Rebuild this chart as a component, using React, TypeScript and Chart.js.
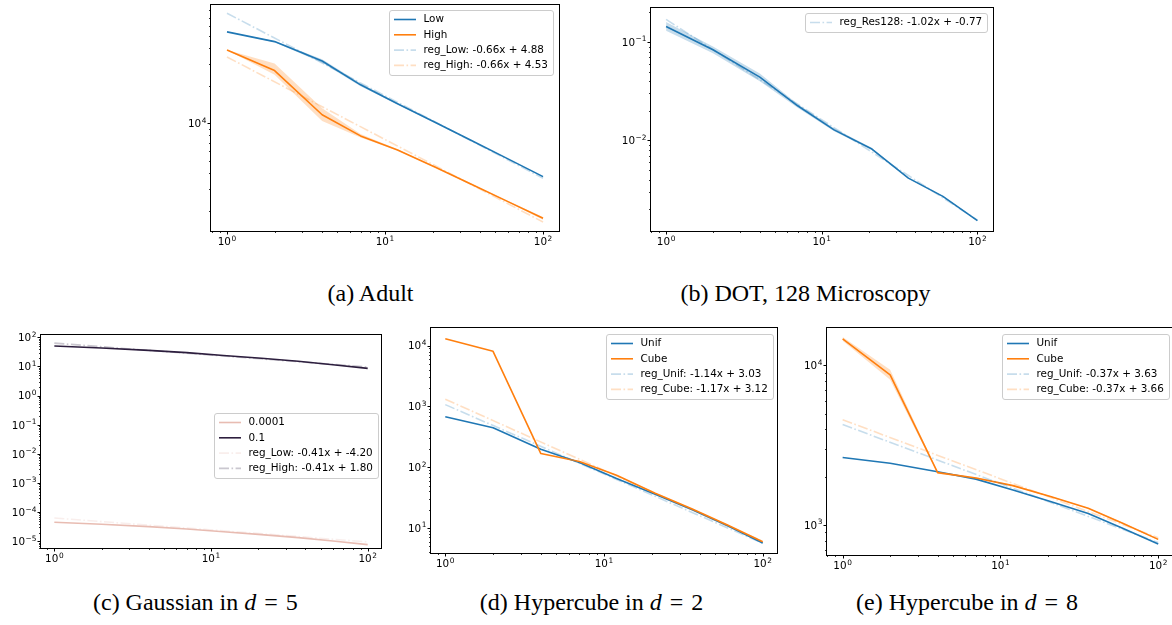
import React, { useEffect, useRef } from 'react';
import { Chart, registerables } from 'chart.js';

Chart.register(...registerables);

const FONT = 'DejaVu Sans';
const FS = 10.4;
const EXP_FS = 7.4;

// ---------------- data ----------------
const xSteps = [1, 2, 4, 7, 12, 21, 36, 60, 100];
const regEnds = [1, 100];
const xTicks = [1, 10, 100];

// (a) Adult
const adultLow = [53800, 45000, 31500, 20300, 14300, 10100, 7180, 5190, 3740];
const adultHigh = [38600, 26400, 11700, 7920, 6120, 4420, 3210, 2360, 1740];
const adultLowBandLo = [53800, 44500, 30500, 19800, 14100, 10000, 7150, 5170, 3720];
const adultLowBandHi = [53800, 45500, 32500, 20900, 14500, 10200, 7210, 5210, 3760];
const adultHighBandLo = [38600, 24400, 10400, 7700, 6050, 4380, 3180, 2330, 1690];
const adultHighBandHi = [38600, 30000, 13200, 8200, 6200, 4460, 3240, 2390, 1780];
const adultRegLow = [75900, 3630];
const adultRegHigh = [33900, 1620];
const adultYTicks = [1e4];

// (b) DOT, 128 Microscopy
const dotRes128 = [0.144, 0.0835, 0.044, 0.0225, 0.0128, 0.00817, 0.00414, 0.0027, 0.00153];
const dotBandLo = [0.13, 0.077, 0.04, 0.0215, 0.0124, 0.008, 0.0041, 0.00268, 0.00152];
const dotBandHi = [0.16, 0.09, 0.048, 0.0235, 0.0133, 0.0084, 0.0042, 0.00272, 0.00154];
const dotReg = [0.17, 0.00155];
const dotYTicks = [0.1, 0.01];

// (c) Gaussian in d = 5
const gaussLow = [4.5e-5, 3.85e-5, 3.2e-5, 2.65e-5, 2.13e-5, 1.7e-5, 1.34e-5, 1.03e-5, 7.7e-6];
const gaussHigh = [50.4, 43.0, 35.7, 29.7, 23.8, 19.0, 15.0, 11.5, 8.6];
const gaussRegLow = [6.31e-5, 9.55e-6];
const gaussRegHigh = [63.1, 9.55];
const gaussYTicks = [1e2, 1e1, 1, 1e-1, 1e-2, 1e-3, 1e-4, 1e-5];

// (d) Hypercube in d = 2
const cube2Unif = [678, 447, 197, 120, 65.2, 36, 20, 10.9, 5.7];
const cube2Cube = [13000, 8070, 168, 124, 74, 37.5, 20.5, 11.2, 5.97];
const cube2RegUnif = [1072, 5.62];
const cube2RegCube = [1318, 6.03];
const cube2YTicks = [10, 100, 1000, 1e4];

// (e) Hypercube in d = 8
const cube8Unif = [2650, 2440, 2160, 1940, 1660, 1400, 1183, 952, 760];
const cube8Cube = [14700, 8730, 2130, 1970, 1766, 1506, 1273, 1024, 813];
const cube8CubeBandLo = [14300, 8150, 2100, 1950, 1750, 1495, 1265, 1015, 805];
const cube8CubeBandHi = [15100, 9400, 2160, 1990, 1782, 1517, 1281, 1033, 821];
const cube8RegUnif = [4266, 776];
const cube8RegCube = [4571, 832];
const cube8YTicks = [1000, 1e4];

const BLUE = '#1f77b4';
const ORANGE = '#ff7f0e';
const PINK = '#e8bcb2';
const NAVY = '#2d1e3e';

// ---------------- helpers ----------------
type Series = {
  kind: 'line' | 'reg' | 'band';
  label?: string;
  color: string;
  xs: number[];
  ys: number[];
  ys2?: number[];
};

type Panel = {
  L: number; T: number; R: number; B: number;
  xMin: number; xMax: number; yMin: number; yMax: number;
  yTicks: number[];
  series: Series[];
  legend: { right: number; top: number };
};

const expText = (v: number) => String(Math.round(Math.log10(v))).replace('-', '\u2212');

const rgba = (hex: string, a: number) => {
  const n = parseInt(hex.slice(1), 16);
  return `rgba(${(n >> 16) & 255},${(n >> 8) & 255},${n & 255},${a})`;
};

const toPts = (xs: number[], ys: number[]) => xs.map((x, i) => ({ x, y: ys[i] }));

function buildDatasets(series: Series[]) {
  const out: any[] = [];
  series.forEach((s, seq) => {
    if (s.kind === 'band') {
      const order = 300 - seq;
      out.push({ data: toPts(s.xs, s.ys), borderColor: 'rgba(0,0,0,0)', borderWidth: 1, pointRadius: 0, fill: false, order });
      out.push({ data: toPts(s.xs, s.ys2 || s.ys), borderColor: 'rgba(0,0,0,0)', borderWidth: 1, pointRadius: 0, fill: '-1', backgroundColor: rgba(s.color, 0.25), order });
    } else if (s.kind === 'line') {
      out.push({ label: s.label, data: toPts(s.xs, s.ys), borderColor: s.color, borderWidth: 1.6, pointRadius: 0, fill: false, borderJoinStyle: 'round', order: 200 - seq });
    } else {
      out.push({ label: s.label, data: toPts(s.xs, s.ys), borderColor: rgba(s.color, 0.25), borderWidth: 1.6, borderDash: [10, 2.5, 1.6, 2.5], pointRadius: 0, fill: false, order: 100 - seq });
    }
  });
  return out;
}

// draws "10" with a raised, smaller exponent (matplotlib mathtext style)
function drawPow(ctx: any, v: number, anchorX: number, baseY: number, align: 'center' | 'right') {
  const base = '10';
  const ex = expText(v);
  ctx.font = `${FS}px "${FONT}"`;
  const wb = ctx.measureText(base).width;
  ctx.font = `${EXP_FS}px "${FONT}"`;
  const we = ctx.measureText(ex).width;
  const total = wb + 0.6 + we;
  const x0 = align === 'center' ? anchorX - total / 2 : anchorX - total;
  ctx.textAlign = 'left';
  ctx.textBaseline = 'alphabetic';
  ctx.fillStyle = '#000';
  ctx.font = `${FS}px "${FONT}"`;
  ctx.fillText(base, x0, baseY);
  ctx.font = `${EXP_FS}px "${FONT}"`;
  ctx.fillText(ex, x0 + wb + 0.6, baseY - 4.4);
}

const axesPlugin = {
  id: 'mplAxes',
  afterDatasetsDraw(chart: any, _args: any, opts: any) {
    const { ctx, chartArea } = chart;
    const { left, top, right, bottom } = chartArea;
    const drawTicks = (scale: any, horizontal: boolean) => {
      const lo = Math.floor(Math.log10(scale.min));
      const hi = Math.ceil(Math.log10(scale.max));
      for (let k = lo; k <= hi; k++) {
        for (let m = 1; m <= 9; m++) {
          const v = m * Math.pow(10, k);
          if (v < scale.min * (1 - 1e-9) || v > scale.max * (1 + 1e-9)) continue;
          const p = Math.round(scale.getPixelForValue(v)) + 0.5;
          const len = m === 1 ? 3.5 : 2;
          ctx.lineWidth = m === 1 ? 1 : 0.8;
          ctx.beginPath();
          if (horizontal) {
            ctx.moveTo(p, bottom);
            ctx.lineTo(p, bottom + len);
          } else {
            ctx.moveTo(left, p);
            ctx.lineTo(left - len, p);
          }
          ctx.stroke();
        }
      }
    };
    ctx.save();
    ctx.strokeStyle = '#000';
    drawTicks(chart.scales.x, true);
    drawTicks(chart.scales.y, false);
    ctx.lineWidth = 1;
    ctx.strokeRect(left - 0.5, top - 0.5, right - left + 1, bottom - top + 1);
    (opts.xTicks || []).forEach((v: number) => {
      drawPow(ctx, v, chart.scales.x.getPixelForValue(v), bottom + 14, 'center');
    });
    (opts.yTicks || []).forEach((v: number) => {
      drawPow(ctx, v, left - 4.5, chart.scales.y.getPixelForValue(v) + 3.8, 'right');
    });
    ctx.restore();
  },
};

const legendPlugin = {
  id: 'mplLegend',
  afterDraw(chart: any, _args: any, opts: any) {
    const ctx = chart.ctx;
    const ca = chart.chartArea;
    const items = chart.data.datasets.filter((d: any) => d.label);
    if (!items.length) return;
    ctx.save();
    ctx.font = `${FS}px "${FONT}"`;
    const textW = Math.max(...items.map((d: any) => ctx.measureText(d.label).width));
    const padL = 4.5, handle = 22, gap = 7.5, padR = 5.5, rowH = 15.3;
    const w = Math.round(padL + handle + gap + textW + padR);
    const h = Math.round(19 + (items.length - 1) * rowH);
    const x0 = Math.round(ca.right - opts.right - w) + 0.5;
    const y0 = Math.round(ca.top + opts.top) + 0.5;
    const r = 2.5;
    ctx.beginPath();
    ctx.moveTo(x0 + r, y0);
    ctx.lineTo(x0 + w - r, y0);
    ctx.arcTo(x0 + w, y0, x0 + w, y0 + r, r);
    ctx.lineTo(x0 + w, y0 + h - r);
    ctx.arcTo(x0 + w, y0 + h, x0 + w - r, y0 + h, r);
    ctx.lineTo(x0 + r, y0 + h);
    ctx.arcTo(x0, y0 + h, x0, y0 + h - r, r);
    ctx.lineTo(x0, y0 + r);
    ctx.arcTo(x0, y0, x0 + r, y0, r);
    ctx.closePath();
    ctx.fillStyle = 'rgba(255,255,255,0.8)';
    ctx.fill();
    ctx.strokeStyle = '#cccccc';
    ctx.lineWidth = 1;
    ctx.stroke();
    items.forEach((d: any, i: number) => {
      const cy = y0 + 9 + i * rowH;
      ctx.beginPath();
      ctx.setLineDash(d.borderDash || []);
      ctx.strokeStyle = d.borderColor;
      ctx.lineWidth = d.borderWidth;
      ctx.moveTo(x0 + padL, cy);
      ctx.lineTo(x0 + padL + handle, cy);
      ctx.stroke();
      ctx.setLineDash([]);
      ctx.fillStyle = '#000';
      ctx.textBaseline = 'middle';
      ctx.textAlign = 'left';
      ctx.fillText(d.label, x0 + padL + handle + gap, cy);
    });
    ctx.restore();
  },
};

const Y_W = 50, X_H = 28, PAD_T = 14, PAD_R = 16;

function PanelChart({ p }: { p: Panel }) {
  const ref = useRef<HTMLCanvasElement>(null);
  const w = p.R - p.L + Y_W + PAD_R;
  const h = p.B - p.T + PAD_T + X_H;
  useEffect(() => {
    const chart = new Chart(ref.current as HTMLCanvasElement, {
      type: 'line',
      data: { datasets: buildDatasets(p.series) },
      options: {
        animation: false,
        responsive: false,
        devicePixelRatio: 1,
        events: [],
        layout: { padding: { top: PAD_T, right: PAD_R, left: 0, bottom: 0 } },
        elements: { line: { tension: 0 } },
        plugins: {
          legend: { display: false },
          tooltip: { enabled: false },
          mplLegend: p.legend,
          mplAxes: { xTicks, yTicks: p.yTicks },
        } as any,
        scales: {
          x: {
            type: 'logarithmic',
            min: p.xMin,
            max: p.xMax,
            grid: { display: false, drawTicks: false },
            border: { display: false },
            afterFit: (s: any) => { s.height = X_H; },
            ticks: { display: false },
          },
          y: {
            type: 'logarithmic',
            min: p.yMin,
            max: p.yMax,
            grid: { display: false, drawTicks: false },
            border: { display: false },
            afterFit: (s: any) => { s.width = Y_W; },
            ticks: { display: false },
          },
        } as any,
      },
      plugins: [axesPlugin, legendPlugin],
    } as any);
    return () => chart.destroy();
  }, []);
  return (
    <canvas
      ref={ref}
      width={w}
      height={h}
      style={{ position: 'absolute', left: p.L - Y_W, top: p.T - PAD_T, width: w, height: h, display: 'block' }}
    />
  );
}

const panels: Panel[] = [
  {
    L: 211, T: 5, R: 559, B: 231,
    xMin: 0.792, xMax: 126.2, yMin: 1374, yMax: 88300,
    yTicks: adultYTicks,
    legend: { right: 6, top: 5 },
    series: [
      { kind: 'band', color: BLUE, xs: xSteps, ys: adultLowBandLo, ys2: adultLowBandHi },
      { kind: 'band', color: ORANGE, xs: xSteps, ys: adultHighBandLo, ys2: adultHighBandHi },
      { kind: 'line', label: 'Low', color: BLUE, xs: xSteps, ys: adultLow },
      { kind: 'line', label: 'High', color: ORANGE, xs: xSteps, ys: adultHigh },
      { kind: 'reg', label: 'reg_Low: -0.66x + 4.88', color: BLUE, xs: regEnds, ys: adultRegLow },
      { kind: 'reg', label: 'reg_High: -0.66x + 4.53', color: ORANGE, xs: regEnds, ys: adultRegHigh },
    ],
  },
  {
    L: 651, T: 8, R: 993, B: 231,
    xMin: 0.80, xMax: 125.9, yMin: 0.0012, yMax: 0.222,
    yTicks: dotYTicks,
    legend: { right: 6, top: 5 },
    series: [
      { kind: 'band', color: BLUE, xs: xSteps, ys: dotBandLo, ys2: dotBandHi },
      { kind: 'line', color: BLUE, xs: xSteps, ys: dotRes128 },
      { kind: 'reg', label: 'reg_Res128: -1.02x + -0.77', color: BLUE, xs: regEnds, ys: dotReg },
    ],
  },
  {
    L: 41, T: 335, R: 381, B: 548,
    xMin: 0.822, xMax: 121.6, yMin: 5.89e-6, yMax: 120,
    yTicks: gaussYTicks,
    legend: { right: 3, top: 78 },
    series: [
      { kind: 'line', label: '0.0001', color: PINK, xs: xSteps, ys: gaussLow },
      { kind: 'line', label: '0.1', color: NAVY, xs: xSteps, ys: gaussHigh },
      { kind: 'reg', label: 'reg_Low: -0.41x + -4.20', color: PINK, xs: regEnds, ys: gaussRegLow },
      { kind: 'reg', label: 'reg_High: -0.41x + 1.80', color: NAVY, xs: regEnds, ys: gaussRegHigh },
    ],
  },
  {
    L: 431, T: 328, R: 777, B: 553,
    xMin: 0.813, xMax: 123, yMin: 3.89, yMax: 19500,
    yTicks: cube2YTicks,
    legend: { right: 4, top: 6 },
    series: [
      { kind: 'line', label: 'Unif', color: BLUE, xs: xSteps, ys: cube2Unif },
      { kind: 'line', label: 'Cube', color: ORANGE, xs: xSteps, ys: cube2Cube },
      { kind: 'reg', label: 'reg_Unif: -1.14x + 3.03', color: BLUE, xs: regEnds, ys: cube2RegUnif },
      { kind: 'reg', label: 'reg_Cube: -1.17x + 3.12', color: ORANGE, xs: regEnds, ys: cube2RegCube },
    ],
  },
  {
    L: 827, T: 328, R: 1174, B: 555,
    xMin: 0.796, xMax: 125.9, yMin: 649, yMax: 17180,
    yTicks: cube8YTicks,
    legend: { right: 5, top: 6 },
    series: [
      { kind: 'band', color: ORANGE, xs: xSteps, ys: cube8CubeBandLo, ys2: cube8CubeBandHi },
      { kind: 'line', label: 'Unif', color: BLUE, xs: xSteps, ys: cube8Unif },
      { kind: 'line', label: 'Cube', color: ORANGE, xs: xSteps, ys: cube8Cube },
      { kind: 'reg', label: 'reg_Unif: -0.37x + 3.63', color: BLUE, xs: regEnds, ys: cube8RegUnif },
      { kind: 'reg', label: 'reg_Cube: -0.37x + 3.66', color: ORANGE, xs: regEnds, ys: cube8RegCube },
    ],
  },
];

const CAP_FS = 24;
function Caption({ cx, base, children }: { cx: number; base: number; children: any }) {
  return (
    <div
      style={{
        position: 'absolute', left: cx - 200, width: 400, top: base - 0.833 * CAP_FS,
        textAlign: 'center', fontFamily: '"Liberation Serif", serif', fontSize: CAP_FS,
        lineHeight: `${CAP_FS}px`, color: '#000', whiteSpace: 'nowrap',
      }}
    >
      {children}
    </div>
  );
}

const Eq = () => <span style={{ margin: '0 0.08em' }}>=</span>;

export default function App() {
  return (
    <div style={{ position: 'absolute', left: 0, top: 0, width: 1172, height: 625, overflow: 'hidden', background: '#fff' }}>
      {panels.map((p, i) => <PanelChart key={i} p={p} />)}
      <Caption cx={370.5} base={300.5}>(a) Adult</Caption>
      <Caption cx={805.5} base={300.5}>(b) DOT, 128 Microscopy</Caption>
      <Caption cx={195.3} base={609.5}>(c) Gaussian in <i>d</i> <Eq /> 5</Caption>
      <Caption cx={591.5} base={609.5}>(d) Hypercube in <i>d</i> <Eq /> 2</Caption>
      <Caption cx={967} base={609.5}>(e) Hypercube in <i>d</i> <Eq /> 8</Caption>
    </div>
  );
}
